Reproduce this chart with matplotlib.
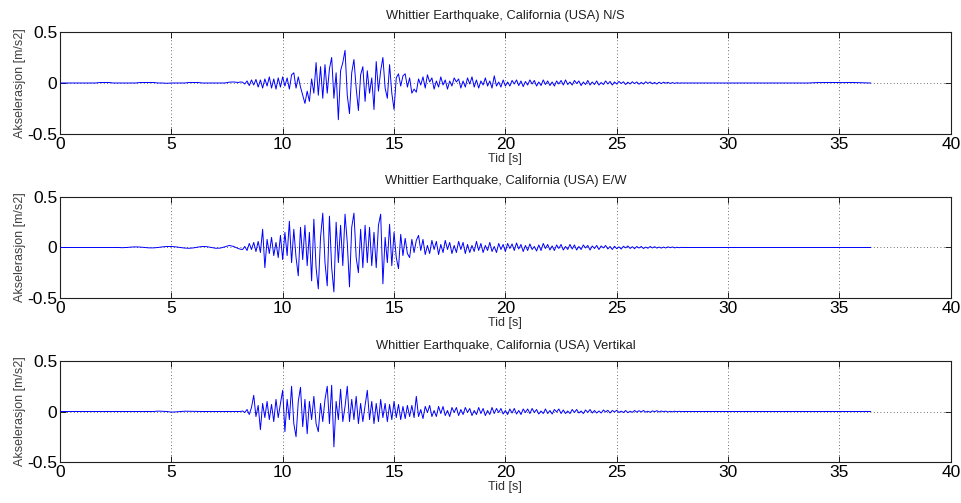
import numpy as np
import matplotlib
matplotlib.use("Agg")
import matplotlib.pyplot as plt

plt.rcParams["font.family"] = ["Liberation Sans", "DejaVu Sans"]

# ---- time grids (s) ----
t_pre = np.arange(0.0, 8.0, 0.2)            # 40 samples
t_main = np.arange(0.0, 200) * 0.1 + 8.0    # 200 samples, 8.0 .. 27.9
t_tail = np.arange(0.0, 22) * 0.4 + 28.0    # 22 samples, 28.0 .. 36.4

# ---- N/S component [m/s2] ----
ns_pre = [0, 0, 0, 0, 0, 0, 0, 0, 0, 0.005,
          0.005, 0.005, 0.0, 0, 0, 0, 0, 0, 0.005, 0.005,
          0.005, 0.005, 0.0, 0, -0.003, 0, 0, 0, 0, 0.005,
          0.005, 0.005, 0.0, 0, 0, 0, 0, 0, 0.008, 0.01]
ns_main = [0.005, 0.01, 0.008, -0.01, 0.02, -0.025, 0.03, -0.02, 0.035, -0.04,
           0.03, -0.05, 0.04, -0.03, 0.06, -0.05, 0.04, -0.06, 0.05, -0.04,
           0.06, -0.03, 0.05, -0.06, 0.08, 0.10, -0.05, 0.06, -0.04, -0.12,
           -0.20, -0.08, -0.18, 0.04, -0.10, 0.20, -0.12, 0.16, -0.15, 0.18,
           -0.10, 0.14, 0.25, -0.15, 0.10, -0.36, 0.12, 0.20, 0.32, -0.12,
           -0.30, 0.10, 0.23, -0.05, -0.27, 0.08, 0.16, -0.18, 0.12, -0.10,
           0.05, -0.26, 0.21, -0.08, 0.12, 0.25, -0.05, -0.15, 0.18, -0.10,
           -0.26, 0.05, 0.09, -0.03, 0.07, 0.09, -0.04, 0.05, -0.10, -0.06,
           -0.09, 0.04, -0.02, 0.06, -0.05, 0.08, 0.01, 0.05, -0.06, 0.02,
           -0.04, 0.06, -0.02, 0.03, -0.06, 0.02, -0.03, 0.05, 0.01, 0.04,
           -0.05, 0.02, -0.04, 0.05, -0.01, 0.06, -0.04, 0.03, -0.05, 0.02,
           -0.02, 0.05, -0.03, 0.02, -0.05, 0.07, -0.03, 0.01, -0.04, 0.03,
           -0.03, 0.01, -0.03, 0.025, -0.01, 0.03, -0.025, 0.02, -0.035, 0.015,
           -0.02, 0.03, -0.01, 0.025, -0.03, 0.01, -0.025, 0.03, -0.015, 0.02,
           -0.025, 0.01, -0.03, 0.02, -0.01, 0.025, -0.02, 0.03, -0.015, 0.01,
           -0.02, 0.025, -0.005, 0.02, -0.025, 0.01, -0.015, 0.025, -0.02, 0.01,
           -0.015, 0.02, -0.02, 0.005, -0.015, 0.02, -0.01, 0.015, -0.02, 0.01,
           -0.01, 0.015, -0.005, 0.012, -0.015, 0.008, -0.01, 0.012, -0.006, 0.01,
           -0.012, 0.006, -0.01, 0.012, -0.004, 0.01, -0.008, 0.006, -0.01, 0.008,
           -0.006, 0.008, -0.002, 0.006, -0.005, 0.004, -0.004, 0.003, -0.002, 0.001]
ns_tail = [0, 0, 0, 0, 0, 0, 0, 0, 0, 0,
           0, 0, 0, 0, 0, 0.004, 0.005, 0.005, 0.004, 0.005,
           0.003, 0.0]

# ---- E/W component [m/s2] ----
ew_pre = [0, 0, 0, 0, 0, 0, 0, 0, 0, 0,
          0, 0, 0, 0, -0.002,
          0.0, 0.004, 0.006, 0.004, 0.0,
          -0.004, -0.004, 0.0, 0.006, 0.01,
          0.01, 0.006, 0.0, -0.006, -0.008,
          -0.004, 0.004, 0.01, 0.008, 0.0,
          -0.008, -0.006, 0.006, 0.02, 0.01]
ew_main = [-0.01, -0.017, -0.02, 0.01, -0.03, 0.04, -0.02, 0.05, -0.04, 0.06,
           -0.05, 0.18, -0.20, 0.08, -0.06, 0.10, -0.08, 0.05, -0.10, 0.12,
           -0.12, 0.15, -0.08, 0.26, -0.15, 0.18, -0.10, -0.28, 0.20, -0.12,
           0.22, -0.18, 0.15, -0.33, 0.28, -0.20, -0.41, 0.10, 0.34, -0.15,
           -0.38, 0.31, -0.20, -0.44, 0.25, -0.15, 0.22, -0.18, 0.33, 0.05,
           -0.39, 0.20, 0.34, -0.10, -0.25, 0.18, -0.20, 0.22, -0.15, 0.20,
           -0.18, 0.15, -0.20, 0.22, 0.33, -0.36, 0.10, -0.15, 0.23, -0.18,
           0.15, -0.10, -0.21, 0.13, -0.08, 0.09, -0.06, -0.10, 0.08, -0.05,
           0.07, 0.12, -0.03, 0.08, -0.07, 0.02, -0.06, 0.07, -0.02, 0.06,
           -0.07, 0.03, -0.05, 0.07, -0.02, 0.05, -0.06, 0.02, -0.05, 0.06,
           -0.02, 0.05, -0.06, 0.03, -0.05, 0.02, -0.04, 0.06, -0.03, 0.04,
           -0.05, 0.02, -0.03, 0.05, -0.04, 0.01, -0.05, 0.04, -0.02, 0.03,
           -0.04, 0.04, -0.01, 0.035, -0.03, 0.045, -0.015, 0.03, -0.04, 0.02,
           -0.03, 0.035, -0.02, 0.01, -0.035, 0.025, -0.03, 0.04, -0.01, 0.03,
           -0.025, 0.015, -0.03, 0.025, -0.01, 0.03, -0.025, 0.01, -0.02, 0.03,
           -0.015, 0.025, -0.025, 0.01, -0.02, 0.025, -0.005, 0.02, -0.025, 0.015,
           -0.01, 0.02, -0.02, 0.015, -0.005, 0.02, -0.015, 0.01, -0.02, 0.012,
           -0.012, 0.006, -0.015, 0.012, -0.004, 0.015, -0.01, 0.008, -0.012, 0.01,
           -0.006, 0.01, -0.01, 0.004, -0.008, 0.01, -0.005, 0.008, -0.006, 0.004,
           -0.006, 0.004, -0.005, 0.006, -0.002, 0.005, -0.004, 0.002, -0.002, 0.001]
ew_tail = [0, 0, 0, 0, 0, 0, 0, 0, 0, 0,
           0, 0, 0, 0, 0, 0, 0, 0, 0, 0,
           0, 0]

# ---- Vertical component [m/s2] ----
v_pre = [0, 0, 0, 0, 0, 0, 0, 0, 0, 0,
         0, 0, 0, 0, 0, 0, 0, 0, 0, 0,
         0, 0, 0.004, 0.002, 0.0, -0.006, -0.004, 0.0, 0.003, 0.002,
         0, 0, 0, 0, 0, 0, 0, 0, 0, 0]
v_main = [0.0, 0.0, 0.005, -0.01, 0.02, -0.03, 0.04, 0.16, -0.05, 0.06,
          -0.18, 0.08, -0.06, 0.10, -0.08, 0.07, -0.10, 0.12, -0.06, 0.08,
          0.21, -0.20, 0.12, -0.08, 0.25, -0.12, -0.25, 0.10, 0.24, -0.15,
          0.12, -0.22, 0.10, -0.08, 0.15, -0.12, -0.20, 0.08, -0.10, 0.12,
          0.25, -0.12, 0.26, -0.35, 0.10, -0.08, 0.22, -0.10, 0.05, 0.25,
          -0.10, 0.12, -0.08, 0.15, -0.12, 0.08, -0.10, 0.06, 0.21, -0.08,
          0.10, -0.12, 0.08, -0.10, 0.12, -0.06, 0.08, -0.10, 0.07, -0.08,
          0.10, -0.06, 0.07, -0.08, 0.05, -0.07, 0.06, -0.05, 0.06, -0.06,
          0.15, -0.05, 0.02, -0.07, 0.05, -0.01, 0.06, -0.05, 0.01, -0.05,
          0.05, -0.02, 0.05, -0.04, 0.01, -0.05, 0.04, -0.01, 0.04, -0.04,
          0.02, -0.03, 0.04, -0.01, 0.03, -0.04, 0.01, -0.03, 0.04, -0.02,
          0.03, -0.04, 0.01, -0.03, 0.04, -0.02, 0.03, -0.01, 0.03, -0.025,
          0.01, -0.03, 0.025, -0.015, 0.03, -0.025, 0.01, -0.03, 0.025, -0.01,
          0.025, -0.02, 0.03, -0.01, 0.02, -0.025, 0.005, -0.02, 0.025, -0.02,
          0.01, -0.025, 0.02, -0.005, 0.025, -0.02, 0.015, -0.02, 0.005, -0.02,
          0.02, -0.01, 0.02, -0.015, 0.005, -0.02, 0.015, -0.01, 0.02, -0.015,
          0.01, -0.015, 0.005, -0.015, 0.015, -0.005, 0.012, -0.015, 0.01, -0.004,
          0.012, -0.01, 0.004, -0.01, 0.01, -0.012, 0.003, -0.008, 0.01, -0.006,
          0.008, -0.004, 0.01, -0.006, 0.003, -0.008, 0.006, -0.002, 0.008, -0.005,
          0.005, -0.002, 0.004, -0.005, 0.002, -0.003, 0.003, -0.002, 0.002, -0.001]
v_tail = [0, 0, 0, 0, 0, 0, 0, 0, 0, 0,
          0, 0, 0, 0, 0, 0, 0, 0, 0, 0,
          0, 0]

titles = ["Whittier Earthquake, California (USA) N/S",
          "Whittier Earthquake, California (USA) E/W",
          "Whittier Earthquake, California (USA) Vertikal"]
xticks = [0, 5, 10, 15, 20, 25, 30, 35, 40]
yticks = [-0.5, 0, 0.5]
ytick_labels = ["-0.5", "0", "0.5"]

t_all = np.concatenate([t_pre, t_main, t_tail])
series = [ns_pre + ns_main + ns_tail,
          ew_pre + ew_main + ew_tail,
          v_pre + v_main + v_tail]

fig = plt.figure(figsize=(9.61, 5.03), dpi=100)
# axes boxes in figure fractions (left, bottom, width, height)
boxes = [(0.0624, 0.7336, 0.927, 0.2028),
         (0.0624, 0.4076, 0.927, 0.2008),
         (0.0624, 0.0815, 0.927, 0.2008)]

for box, title, acc in zip(boxes, titles, series):
    ax = fig.add_axes(box)
    ax.plot(t_all, acc, color="#0000ff", linewidth=0.7, zorder=3)

    ax.set_xlim(0, 40)
    ax.set_ylim(-0.5, 0.5)
    ax.set_xticks(xticks)
    ax.set_yticks(yticks)
    ax.set_yticklabels(ytick_labels)

    ax.grid(True, linestyle=(0, (1, 3)), color="#404040", linewidth=0.6)
    ax.tick_params(direction="in", length=4, width=0.6, top=True, right=True,
                   labelsize=12.5, pad=2, colors="#000000")
    for s in ax.spines.values():
        s.set_linewidth(0.8)
        s.set_color("#202020")

    ax.set_title(title, fontsize=9.3, pad=9, color="#202020")
    ax.set_xlabel("Tid [s]", fontsize=9, labelpad=1, color="#303030")
    ax.set_ylabel("Akselerasjon [m/s2]", fontsize=9, labelpad=1, color="#404040")

fig.savefig("out.png", dpi=100)
